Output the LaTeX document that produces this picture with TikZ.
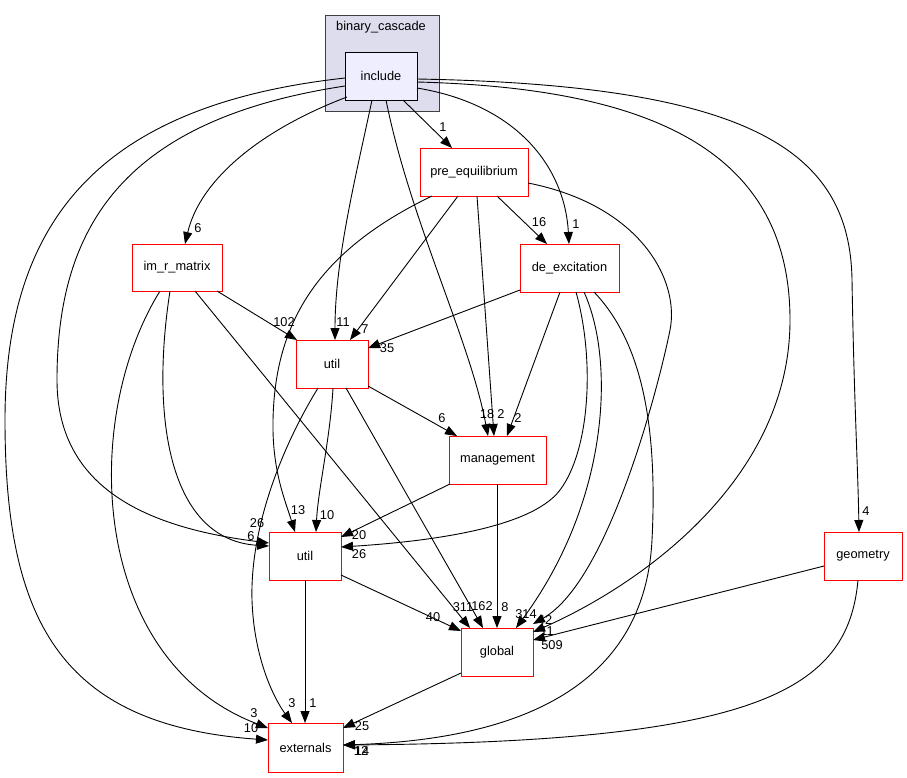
\documentclass[tikz,border=0pt]{standalone}
\usepackage{fontspec}
\setmainfont{Liberation Sans}
\usetikzlibrary{arrows.meta}
\definecolor{clfill}{HTML}{DDDDEE}
\definecolor{incfill}{HTML}{EEEEFF}
\definecolor{clborder}{HTML}{404040}
\begin{document}
\begin{tikzpicture}[x=1pt,y=-1pt,
  every node/.style={font=\fontsize{12.8}{14}\selectfont, inner sep=0pt},
  box/.style={draw=red, line width=1pt, fill=white, minimum width=#1, minimum height=48pt},
  conn/.style={draw, line width=0.9pt, -{Triangle[length=12pt,width=9pt]}},
  lab/.style={}]
\useasboundingbox (0,0) rectangle (907,777);
% cluster
\node[draw=clborder, line width=1pt, fill=clfill, minimum width=114pt, minimum height=96pt] (cl) at (382,63) {};
\node (cltitle) at (381,27) {binary\_cascade};
\node[draw=black, line width=1pt, fill=incfill, minimum width=72pt, minimum height=48pt] (inc) at (381,76) {include};
% nodes
\node[box=108pt] (pre) at (474,172) {pre\_equilibrium};
\node[box=99pt] (dex) at (569.5,268) {de\_excitation};
\node[box=90pt, minimum height=47pt] (imr) at (177,267.5) {im\_r\_matrix};
\node[box=72pt] (u1) at (332,364) {util};
\node[box=97pt] (mgmt) at (497.5,460) {management};
\node[box=72pt] (u2) at (305,556) {util};
\node[box=72pt] (glob) at (497,652) {global};
\node[box=75pt, minimum height=49pt] (ext) at (305.5,747.5) {externals};
\node[box=78pt] (geo) at (863,556) {geometry};
% edges from include
\draw[conn] ([shift={(22,24)}]inc.center) -- ([shift={(-22,-24)}]pre.center);
\draw[conn] ([shift={(36,12)}]inc.center) .. controls (520,105) and (565,170) .. ([shift={(-0.5,-24)}]dex.center);
\draw[conn] ([shift={(-34,21)}]inc.center) .. controls (260,130) and (200,180) .. ([shift={(8,-23.5)}]imr.center);
\draw[conn] ([shift={(-9,24)}]inc.center) .. controls (355,180) and (335,260) .. ([shift={(3,-24)}]u1.center);
\draw[conn] ([shift={(5,24)}]inc.center) .. controls (410,220) and (470,340) .. ([shift={(-9.5,-24)}]mgmt.center);
\draw[conn] ([shift={(-36,10)}]inc.center) .. controls (120,120) and (57,230) .. (57,380) .. controls (57,490) and (150,528) .. ([shift={(-36,-13)}]u2.center);
\draw[conn] ([shift={(-36,2)}]inc.center) .. controls (100,105) and (5,220) .. (5,420) .. controls (5,620) and (60,725) .. ([shift={(-37.5,-7.5)}]ext.center);
\draw[conn] ([shift={(36,6)}]inc.center) .. controls (650,88) and (790,150) .. (790,320) .. controls (790,480) and (640,585) .. ([shift={(36,-20)}]glob.center);
\draw[conn] ([shift={(36,3)}]inc.center) .. controls (750,85) and (850,150) .. (852,280) .. controls (854,400) and (858,470) .. ([shift={(-4,-24)}]geo.center);
% pre_equilibrium
\draw[conn] ([shift={(23,24)}]pre.center) -- ([shift={(-22.5,-24)}]dex.center);
\draw[conn] ([shift={(-16,24)}]pre.center) -- ([shift={(18,-24)}]u1.center);
\draw[conn] ([shift={(3,24)}]pre.center) -- ([shift={(-3.5,-24)}]mgmt.center);
\draw[conn] ([shift={(-42,24)}]pre.center) .. controls (320,250) and (275,320) .. (273,420) .. controls (272,470) and (285,500) .. ([shift={(-10,-24)}]u2.center);
\draw[conn] ([shift={(54,11)}]pre.center) .. controls (640,205) and (680,280) .. (670,330) .. controls (660,380) and (610,580) .. ([shift={(36,-28)}]glob.center);
% de_excitation
\draw[conn] ([shift={(-49.5,22)}]dex.center) -- ([shift={(36,-16)}]u1.center);
\draw[conn] ([shift={(-9.5,24)}]dex.center) -- ([shift={(9.5,-24)}]mgmt.center);
\draw[conn] ([shift={(6.5,24)}]dex.center) .. controls (595,360) and (590,450) .. (560,490) .. controls (530,530) and (420,542) .. ([shift={(36,-9)}]u2.center);
\draw[conn] ([shift={(14.5,24)}]dex.center) .. controls (615,360) and (610,500) .. ([shift={(19,-24)}]glob.center);
\draw[conn] ([shift={(24.5,24)}]dex.center) .. controls (640,340) and (658,420) .. (652,540) .. controls (646,660) and (560,738) .. ([shift={(37.5,-2.5)}]ext.center);
% im_r_matrix
\draw[conn] ([shift={(40,23.5)}]imr.center) -- ([shift={(-35,-24)}]u1.center);
\draw[conn] ([shift={(-7,23.5)}]imr.center) .. controls (150,420) and (170,540) .. ([shift={(-36,-10)}]u2.center);
\draw[conn] ([shift={(18,23.5)}]imr.center) -- ([shift={(-27,-24)}]glob.center);
\draw[conn] ([shift={(-17,23.5)}]imr.center) .. controls (80,420) and (90,660) .. ([shift={(-37.5,-19.5)}]ext.center);
% util (upper)
\draw[conn] ([shift={(36,22)}]u1.center) -- ([shift={(-40.5,-24)}]mgmt.center);
\draw[conn] ([shift={(1,24)}]u1.center) .. controls (330,440) and (318,490) .. ([shift={(11,-24)}]u2.center);
\draw[conn] ([shift={(14,24)}]u1.center) -- ([shift={(-14,-24)}]glob.center);
\draw[conn] ([shift={(-14,24)}]u1.center) .. controls (280,450) and (250,530) .. (252,600) .. controls (254,660) and (275,700) .. ([shift={(-13.5,-24.5)}]ext.center);
% management
\draw[conn] ([shift={(-47.5,24)}]mgmt.center) -- ([shift={(36,-19)}]u2.center);
\draw[conn] ([shift={(-0.5,24)}]mgmt.center) -- ([shift={(0,-24)}]glob.center);
% util (lower)
\draw[conn] ([shift={(36,19)}]u2.center) -- ([shift={(-36,-21)}]glob.center);
\draw[conn] ([shift={(0,24)}]u2.center) -- ([shift={(-0.5,-24.5)}]ext.center);
% global
\draw[conn] ([shift={(-36,21)}]glob.center) -- ([shift={(37.5,-19.5)}]ext.center);
% geometry
\draw[conn] ([shift={(-39,10)}]geo.center) -- ([shift={(36,-12)}]glob.center);
\draw[conn] ([shift={(-5,24)}]geo.center) .. controls (848,690) and (760,742) .. ([shift={(37.5,-2.5)}]ext.center);
% labels
\node[lab] (l1) at (443,127) {1};
\node[lab] (l2) at (576,224) {1};
\node[lab] (l3) at (198,228) {6};
\node[lab] (l4) at (343,322) {11};
\node[lab] (l5) at (487,414) {18};
\node[lab] (l6) at (257,523) {26};
\node[lab] (l7) at (251,728) {10};
\node[lab] (l8) at (547,631) {11};
\node[lab] (l9) at (866,511) {4};
\node[lab] (l10) at (539,222) {16};
\node[lab] (l11) at (365,329) {7};
\node[lab] (l12) at (501,414) {2};
\node[lab] (l13) at (298,510) {13};
\node[lab] (l14) at (545,620) {42};
\node[lab] (l15) at (387,348) {35};
\node[lab] (l16) at (518,418) {2};
\node[lab] (l17) at (359,554) {26};
\node[lab] (l18) at (526,614) {314};
\node[lab] (l19) at (361,751) {12};
\node[lab] (l20) at (284,322) {102};
\node[lab] (l21) at (251,536) {6};
\node[lab] (l22) at (463,607) {311};
\node[lab] (l23) at (254,713) {3};
\node[lab] (l24) at (442,418) {6};
\node[lab] (l25) at (327,515) {10};
\node[lab] (l26) at (482,606) {162};
\node[lab] (l27) at (292,703) {3};
\node[lab] (l28) at (359,535) {20};
\node[lab] (l29) at (505,607) {8};
\node[lab] (l30) at (433,617) {40};
\node[lab] (l31) at (313,703) {1};
\node[lab] (l32) at (362,726) {25};
\node[lab] (l33) at (552,645) {509};
\node[lab] (l34) at (362,751) {14};
\end{tikzpicture}
\end{document}
